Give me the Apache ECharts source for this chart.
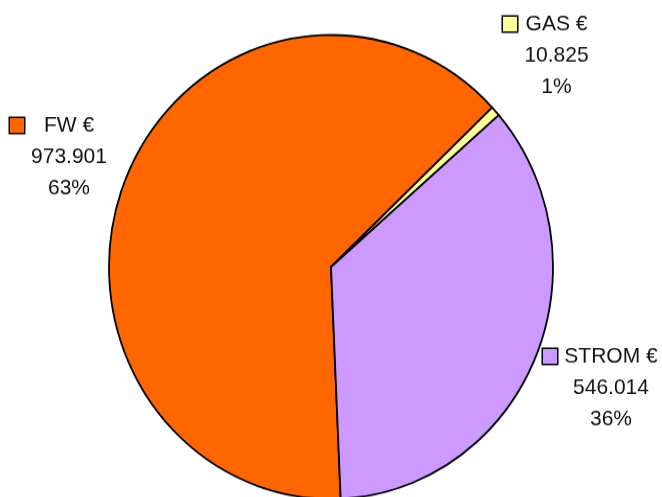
<!DOCTYPE html>
<html>
<head>
<meta charset="utf-8">
<script src="https://cdn.jsdelivr.net/npm/echarts@6/dist/echarts.min.js"></script>
<style>
  html, body { margin: 0; padding: 0; background: #fff; overflow: hidden; }
  #wrap { width: 662px; height: 497px; overflow: hidden; }
  /* the original pie is a little taller than wide, so stretch the chart vertically */
  #chart { width: 662px; height: 476px; transform: scaleY(1.045); transform-origin: 0 0; }
</style>
</head>
<body>
<div id="wrap"><div id="chart"></div></div>
<script>
// data
const categories = ['FW €', 'GAS €', 'STROM €'];
const values = [973901, 10825, 546014];
const colors = ['#FF6600', '#FFFF99', '#CC99FF'];

// where each label block sits (top-left of the key square, in unstretched px)
const labelSpots = [[10, 105], [503, 8], [543, 326]];

const FONT = '21px "Liberation Sans", Arial, sans-serif';

function fmt (v) {
  return String(v).replace(/\B(?=(\d{3})+(?!\d))/g, '.');
}

// measure text so the three lines are centred on each other
const ctx = document.createElement('canvas').getContext('2d');
ctx.font = FONT;
function textW (s) { return Math.ceil(ctx.measureText(s).width); }

const total = values.reduce((a, b) => a + b, 0);

let seriesData = categories.map((name, i) => {
  let pctGuess = Math.round(values[i] / total * 100) + '%';
  let w = Math.max(textW(name), textW(fmt(values[i])), textW(pctGuess)) + 2;
  return {
    name: name,
    value: values[i],
    itemStyle: { color: colors[i] },
    label: {
      rich: {
        sq: {
          width: 14, height: 14,
          backgroundColor: colors[i],
          borderColor: '#000',
          borderWidth: 1.5
        },
        t: { width: w, align: 'center', fontSize: 21, lineHeight: 30, color: '#111' }
      }
    }
  };
});

let chart = echarts.init(document.getElementById('chart'), null, { renderer: 'canvas' });

let option = {
  animation: false,
  backgroundColor: '#fff',
  textStyle: { fontFamily: '"Liberation Sans", Arial, sans-serif' },
  series: [{
    type: 'pie',
    center: [331, 255.5],
    radius: 222,
    startAngle: -87.5,
    clockwise: true,
    percentPrecision: 0,
    avoidLabelOverlap: false,
    itemStyle: {
      borderColor: '#000',
      borderWidth: 1.8
    },
    emphasis: { disabled: true },
    labelLine: { show: false },
    label: {
      show: true,
      position: 'outside',
      fontSize: 21,
      lineHeight: 30,
      color: '#111',
      formatter: p => '{sq|}{g|}{t|' + p.name + '}\n{s2|}{t|' + fmt(p.value) + '}\n{s2|}{t|' + p.percent + '%}',
      rich: {
        g: { width: 6 },
        s2: { width: 20 }
      }
    },
    labelLayout: params => {
      let spot = labelSpots[params.dataIndex];
      return { x: spot[0], y: spot[1], align: 'left', verticalAlign: 'top' };
    },
    data: seriesData
  }]
};

chart.setOption(option);
</script>
</body>
</html>
